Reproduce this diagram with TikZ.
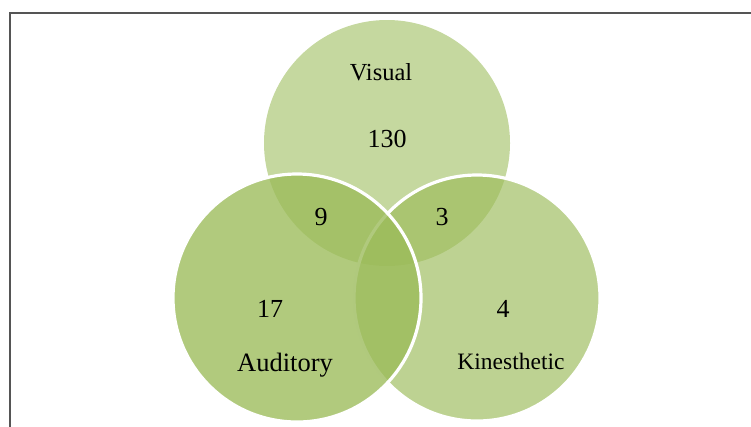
\documentclass[tikz,border=0pt]{standalone}
\usepackage{fontspec}
\setmainfont{Liberation Serif}
\definecolor{olive}{RGB}{155,187,89}
\definecolor{framegray}{RGB}{85,85,85}
\begin{document}
\begin{tikzpicture}[
    x=1pt, y=-1pt,
    set/.style={circle, inner sep=0pt, fill=olive},
    rim/.style={draw=white, line width=3.2pt},
    lbl/.style={anchor=base, inner sep=0pt, font=\fontsize{24.5}{28}\selectfont},
    num/.style={anchor=base, inner sep=0pt, font=\fontsize{26}{30}\selectfont}
]

\useasboundingbox (0,0) rectangle (751,426);
\clip (0,0) rectangle (751,426);

% Frame
\draw[framegray, line width=1.6pt] (10,440) -- (10,13) -- (760,13);

% Sets
\node[set, fill opacity=0.58, minimum size=246pt] (visual) at (387,143) {};
\node[set, rim, fill opacity=0.66, minimum size=246pt] (kinesthetic) at (477,298) {};
\node[set, rim, fill opacity=0.78, minimum size=248pt] (auditory) at (297,298) {};

% Names
\node[lbl] (visualname) at (381,80) {Visual};
\node[lbl, font=\fontsize{26.5}{30}\selectfont] (auditoryname) at (285,371) {Auditory};
\node[lbl, font=\fontsize{23.5}{27}\selectfont] (kinestheticname) at (511,369) {Kinesthetic};

% Counts
\node[num] (visualonly) at (387,147) {130};
\node[num] (visaud) at (321,225) {9};
\node[num] (viskin) at (442,225) {3};
\node[num] (auditoryonly) at (270,317) {17};
\node[num] (kinestheticonly) at (503,317) {4};

\end{tikzpicture}
\end{document}
